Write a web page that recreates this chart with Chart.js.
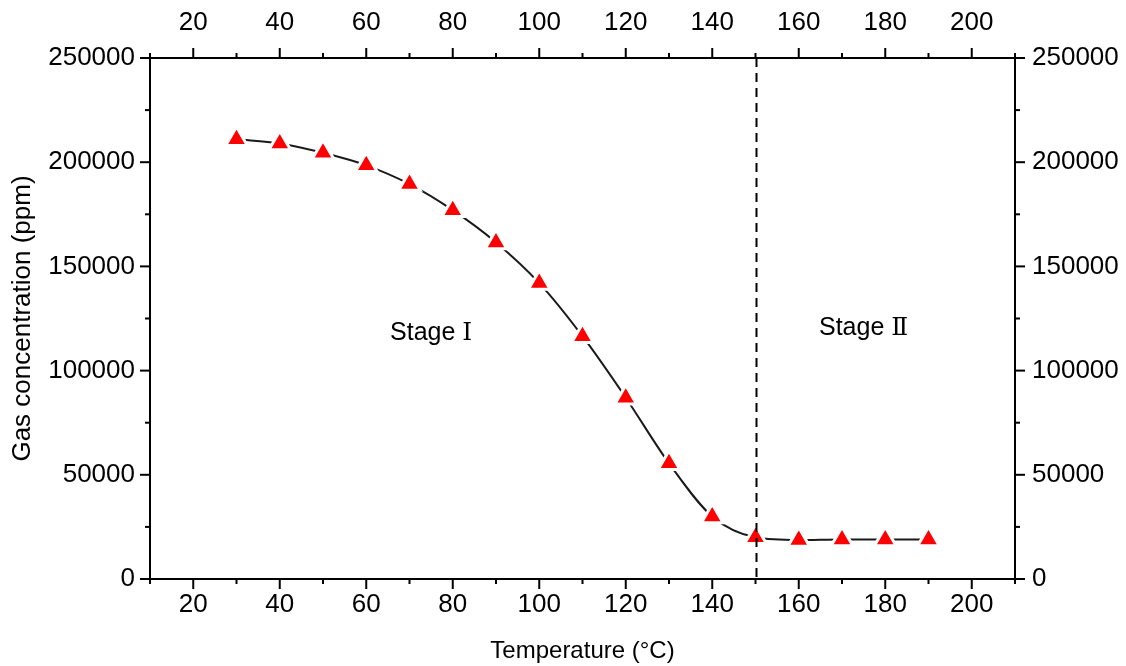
<!DOCTYPE html>
<html>
<head>
<meta charset="utf-8">
<script src="https://cdn.jsdelivr.net/npm/chart.js@4/dist/chart.umd.min.js"></script>
<style>
  body { margin: 0; background: #fff; }
</style>
</head>
<body>
<canvas id="graficoGas" width="1126" height="666"></canvas>
<script>
    // DADOS

    const temperaturas = [30, 40, 50, 60, 70, 80, 90, 100, 110, 120, 130, 140, 150, 160, 170, 180, 190]
    const concentracao = [211000, 209000, 204500, 198500, 189500, 177000, 161500, 142000, 116500, 87000, 55500, 30000, 20000, 18700, 19000, 18900, 19000]
    const limiteEstagio = 150
    const textosEstagio = ['Stage \u2160', 'Stage \u2161']
    const posicaoEstagio = [[75, 118000], [175, 120500]]

    var fonte = 'Arial, "Liberation Sans", sans-serif';

    // marcas dos eixos (maiores e menores), moldura, linha tracejada e textos
    var desenhoExtra = {
        id: 'desenhoExtra',
        afterDatasetsDraw: function (chart) {
            var ctx = chart.ctx;
            var area = chart.chartArea;
            var sx = chart.scales.x;
            var sy = chart.scales.y;

            ctx.save();

            // linha tracejada
            var xl = Math.round(sx.getPixelForValue(limiteEstagio)) + 0.5;
            ctx.strokeStyle = '#000';
            ctx.lineWidth = 2;
            ctx.setLineDash([9, 6]);
            ctx.beginPath();
            ctx.moveTo(xl, area.top);
            ctx.lineTo(xl, area.bottom);
            ctx.stroke();
            ctx.setLineDash([]);

            // moldura
            ctx.strokeRect(area.left, area.top, area.right - area.left, area.bottom - area.top);

            // marcas
            ['x', 'x2', 'y', 'y2'].forEach(function (id) {
                var s = chart.scales[id];
                var passo = s.isHorizontal() ? 20 : 50000;
                s.ticks.forEach(function (t) {
                    var p = s.getPixelForValue(t.value);
                    var len = (t.value % passo === 0) ? 10 : 5;
                    ctx.beginPath();
                    if (id === 'x') { ctx.moveTo(p, area.bottom); ctx.lineTo(p, area.bottom + len); }
                    if (id === 'x2') { ctx.moveTo(p, area.top); ctx.lineTo(p, area.top - len); }
                    if (id === 'y') { ctx.moveTo(area.left, p); ctx.lineTo(area.left - len, p); }
                    if (id === 'y2') { ctx.moveTo(area.right, p); ctx.lineTo(area.right + len, p); }
                    ctx.stroke();
                });
            });

            // textos
            ctx.fillStyle = '#000';
            ctx.font = '25px Arial, "Liberation Sans", "DejaVu Serif", sans-serif';
            ctx.textAlign = 'center';
            ctx.textBaseline = 'middle';
            textosEstagio.forEach(function (txt, i) {
                ctx.fillText(txt, sx.getPixelForValue(posicaoEstagio[i][0]), sy.getPixelForValue(posicaoEstagio[i][1]));
            });

            ctx.restore();
        }
    };

    function rotuloX(v) {
        return (v % 20 === 0 && v >= 20 && v <= 200) ? String(v) : '';
    }

    function rotuloY(v) {
        return (v % 50000 === 0) ? String(v) : '';
    }

    var eixoX = function (pos, largura, pad) {
        return {
            type: 'linear',
            position: pos,
            min: 10,
            max: 210,
            grid: { display: false, drawTicks: false },
            border: { display: false },
            ticks: {
                stepSize: 10,
                autoSkip: false,
                maxRotation: 0,
                padding: pad,
                color: '#000',
                font: { family: fonte, size: 26 },
                callback: rotuloX
            },
            afterFit: function (s) { s.height = largura; }
        };
    };

    var eixoY = function (pos, largura, pad) {
        return {
            type: 'linear',
            position: pos,
            min: 0,
            max: 250000,
            grid: { display: false, drawTicks: false },
            border: { display: false },
            ticks: {
                stepSize: 25000,
                autoSkip: false,
                padding: pad,
                color: '#000',
                font: { family: fonte, size: 26 },
                callback: rotuloY
            },
            afterFit: function (s) { s.width = largura; }
        };
    };

    var escalaX = eixoX('bottom', 87, 10);
    escalaX.title = {
        display: true,
        text: 'Temperature (\u00B0C)',
        color: '#000',
        font: { family: fonte, size: 24 },
        padding: { top: 0, bottom: 0 }
    };
    var escalaX2 = eixoX('top', 58, 20);
    var escalaY = eixoY('left', 150, 15);
    escalaY.title = {
        display: true,
        text: 'Gas concentration (ppm)',
        color: '#000',
        font: { family: fonte, size: 26 },
        padding: { top: 7, bottom: 0 }
    };
    var escalaY2 = eixoY('right', 111, 17);

    var ctxGas = document.getElementById('graficoGas').getContext('2d');

    var graficoGas = new Chart(ctxGas, {
        type: 'line',
        data: {
            datasets: [
                {
                    label: 'Gas concentration',
                    data: temperaturas.map(function (t, i) { return { x: t, y: concentracao[i] }; }),
                    xAxisID: 'x',
                    yAxisID: 'y',
                    borderColor: '#1a1a1a',
                    borderWidth: 2,
                    cubicInterpolationMode: 'monotone',
                    pointStyle: 'triangle',
                    pointRadius: 12.5,
                    pointBackgroundColor: '#ff0000',
                    pointBorderColor: '#ffffff',
                    pointBorderWidth: 3,
                    fill: false
                }
            ]
        },
        options: {
            responsive: false,
            animation: false,
            layout: { padding: 0 },
            plugins: {
                legend: { display: false },
                tooltip: { enabled: false }
            },
            scales: {
                x: escalaX,
                x2: escalaX2,
                y: escalaY,
                y2: escalaY2
            }
        },
        plugins: [desenhoExtra]
    });
</script>
</body>
</html>
